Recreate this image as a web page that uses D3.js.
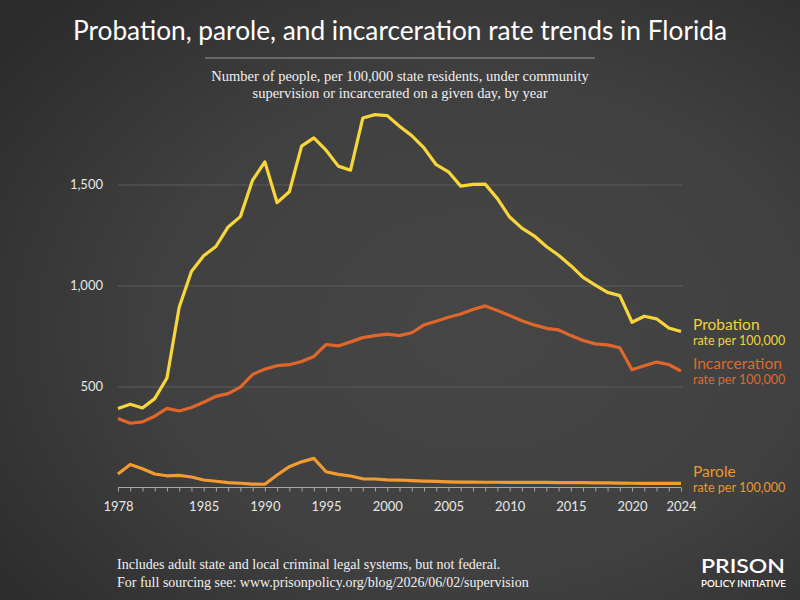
<!DOCTYPE html>
<html>
<head>
<meta charset="utf-8"/>
<title>Florida rate trends</title>
<script src="https://d3js.org/d3.v7.min.js"></script>
<style>
  html, body { margin: 0; padding: 0; background: #3a3a3a; }
  svg { display: block; }
  .axis text { font-family: Lato, "Open Sans", sans-serif; fill: #e6e6e6; font-size: 13px; }
</style>
</head>
<body>
<div id="chart"></div>
<script>
const years = d3.range(1978, 2025);

const probation = [391, 412, 394, 440, 542, 892, 1069, 1147, 1193, 1290, 1341, 1522, 1612, 1410, 1464, 1690,
  1731, 1670, 1591, 1571, 1829, 1846, 1841, 1788, 1742, 1681, 1598, 1563, 1492, 1501, 1502, 1430,
  1339, 1284, 1246, 1193, 1150, 1098, 1040, 1002, 966, 950, 818, 848, 835, 790, 772];

const incarceration = [341, 318, 325, 353, 392, 379, 396, 422, 451, 465, 497, 560, 586, 603, 608, 624,
  649, 708, 701, 721, 742, 752, 759, 752, 766, 805, 823, 843, 859, 881, 899, 876,
  851, 826, 805, 788, 780, 752, 728, 711, 706, 692, 583, 603, 621, 609, 576];

const parole = [67, 114, 93, 67, 58, 60, 52, 37, 31, 24, 21, 17, 16, 62, 103, 127,
  144, 78, 65, 57, 43, 42, 38, 37, 34, 32, 30, 28, 27, 27, 26, 26,
  25, 25, 26, 25, 24, 24, 24, 23, 23, 22, 21, 20, 20, 20, 20];

const yTicks = [500, 1000, 1500];
const xLabels = [1978, 1985, 1990, 1995, 2000, 2005, 2010, 2015, 2020, 2024];

const seriesNames = ["Probation", "Incarceration", "Parole"];
const seriesColors = ["#f7d63c", "#e0662a", "#f39b31"];
const labelColors = ["#eed23d", "#dc6a2e", "#ea972f"];

const W = 800, H = 600;
const svg = d3.select("#chart").append("svg")
  .attr("width", W).attr("height", H);

// background with soft vignette
const defs = svg.append("defs");
const grad = defs.append("radialGradient").attr("id", "bg")
  .attr("cx", "60%").attr("cy", "55%").attr("r", "75%");
grad.append("stop").attr("offset", "0%").attr("stop-color", "#464646");
grad.append("stop").attr("offset", "55%").attr("stop-color", "#404040");
grad.append("stop").attr("offset", "100%").attr("stop-color", "#2c2c2c");
svg.append("rect").attr("width", W).attr("height", H).attr("fill", "url(#bg)");

const x = d3.scaleLinear().domain([1978, 2024]).range([118, 681]);
const y = d3.scaleLinear().domain([0, 1500]).range([487.5, 184.5]);

// title block
svg.append("text")
  .attr("x", 400).attr("y", 40)
  .attr("text-anchor", "middle")
  .attr("textLength", 654).attr("lengthAdjust", "spacingAndGlyphs")
  .style("font-family", "Lato, 'Open Sans', sans-serif")
  .style("font-size", "26px")
  .style("fill", "#ffffff")
  .text("Probation, parole, and incarceration rate trends in Florida");

svg.append("line")
  .attr("x1", 205).attr("x2", 595).attr("y1", 58).attr("y2", 58)
  .attr("stroke", "#9a9a9a").attr("stroke-width", 1);

const subtitle = ["Number of people, per 100,000 state residents, under community",
  "supervision or incarcerated on a given day, by year"];
svg.selectAll("text.sub")
  .data(subtitle)
  .enter().append("text")
  .attr("class", "sub")
  .attr("x", 400).attr("y", (d, i) => 81 + i * 17)
  .attr("text-anchor", "middle")
  .style("font-family", "'Liberation Serif', 'DejaVu Serif', serif")
  .style("font-size", "14.5px")
  .style("fill", "#f0f0f0")
  .text(d => d);

// y gridlines + labels
const yAxis = svg.append("g")
  .attr("class", "axis")
  .attr("transform", "translate(118,0)")
  .call(d3.axisLeft(y).tickValues(yTicks).tickSize(-565).tickPadding(15).tickFormat(d3.format(",")));
yAxis.select(".domain").remove();
yAxis.selectAll(".tick line").attr("stroke", "#5c5c5c").attr("stroke-width", 1);

// x axis
const xAxis = svg.append("g")
  .attr("class", "axis")
  .attr("transform", "translate(0," + y(0) + ")")
  .call(d3.axisBottom(x).tickValues(years).tickSize(4).tickPadding(10)
    .tickFormat(d => xLabels.includes(d) ? d : ""));
xAxis.select(".domain").attr("stroke", "#a8a8a8").attr("d", "M118,0H681");
xAxis.selectAll(".tick line").attr("stroke", "#a8a8a8");

// lines
const allSeries = [probation, incarceration, parole];
const line = d3.line()
  .x((d, i) => x(years[i]))
  .y(d => y(d));

svg.selectAll("path.series")
  .data(allSeries)
  .enter().append("path")
  .attr("class", "series")
  .attr("fill", "none")
  .attr("stroke", (d, i) => seriesColors[i])
  .attr("stroke-width", 3.2)
  .attr("stroke-linejoin", "round")
  .attr("d", line);

// end labels
const lab = svg.selectAll("g.lab")
  .data(allSeries)
  .enter().append("g")
  .attr("class", "lab")
  .attr("transform", (d, i) => "translate(693," + (y(d[d.length - 1]) - (i == 2 ? 6 : 2)) + ")");

lab.append("text")
  .style("font-family", "Lato, 'Open Sans', sans-serif")
  .style("font-size", "15.5px")
  .style("fill", (d, i) => labelColors[i])
  .text((d, i) => seriesNames[i]);

lab.append("text")
  .attr("y", 15)
  .style("font-family", "Lato, 'Open Sans', sans-serif")
  .style("font-size", "12.5px")
  .style("fill", (d, i) => labelColors[i])
  .text("rate per 100,000");

// footnote
const notes = ["Includes adult state and local criminal legal systems, but not federal.",
  "For full sourcing see: www.prisonpolicy.org/blog/2026/06/02/supervision"];
svg.selectAll("text.note")
  .data(notes)
  .enter().append("text")
  .attr("class", "note")
  .attr("x", 117).attr("y", (d, i) => 569 + i * 18)
  .style("font-family", "'Liberation Serif', 'DejaVu Serif', serif")
  .style("font-size", "14px")
  .style("fill", "#f0f0f0")
  .text(d => d);

// logo
svg.append("text")
  .attr("x", 701).attr("y", 573)
  .attr("textLength", 84).attr("lengthAdjust", "spacingAndGlyphs")
  .style("font-family", "Lato, 'Open Sans', sans-serif")
  .style("font-size", "20px").style("font-weight", "600")
  .style("fill", "#ffffff")
  .text("PRISON");
svg.append("text")
  .attr("x", 701).attr("y", 587)
  .attr("textLength", 85).attr("lengthAdjust", "spacingAndGlyphs")
  .style("font-family", "Lato, 'Open Sans', sans-serif")
  .style("font-size", "9.5px").style("font-weight", "600")
  .style("fill", "#ffffff")
  .text("POLICY INITIATIVE");
</script>
</body>
</html>
